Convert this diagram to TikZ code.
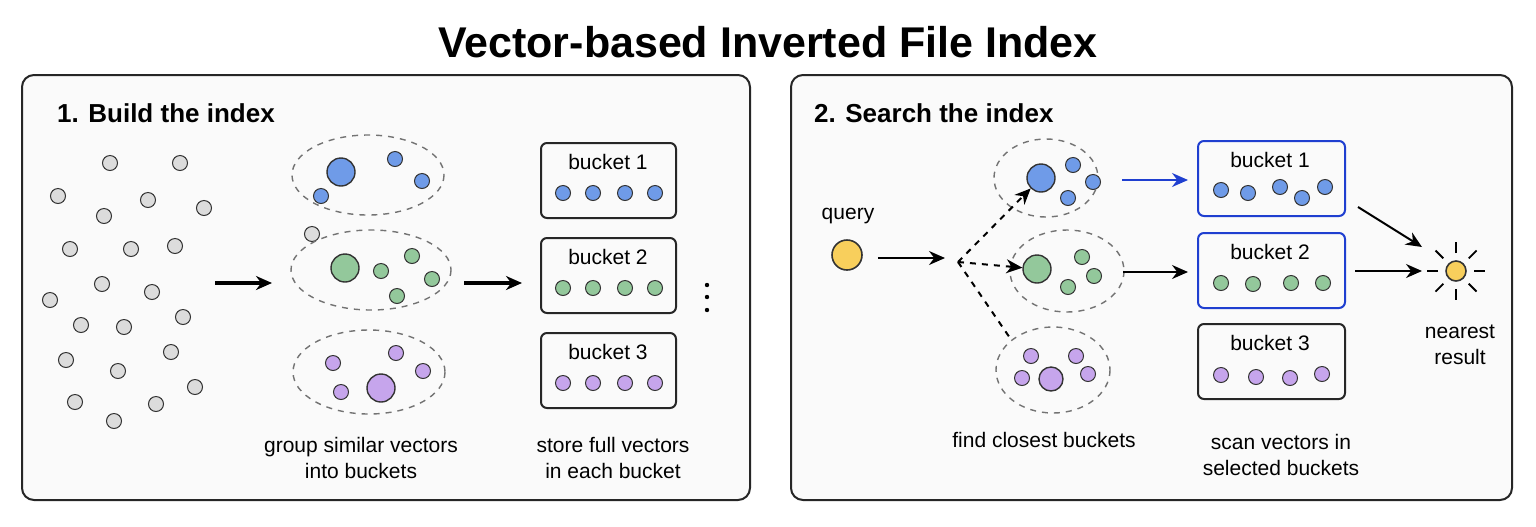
\documentclass[tikz,border=0pt]{standalone}
\usepackage{fontspec}
\setmainfont{Liberation Sans}
\usetikzlibrary{arrows.meta}
\definecolor{dotgray}{HTML}{DCDCDC}
\definecolor{dotblue}{HTML}{6F9BE8}
\definecolor{dotgreen}{HTML}{93C89B}
\definecolor{dotpurple}{HTML}{C6A5EC}
\definecolor{dotyellow}{HTML}{F8CF5C}
\definecolor{linkblue}{HTML}{1F3FD0}
\begin{document}
\begin{tikzpicture}[x=0.5pt,y=-0.5pt,font=\fontsize{10.5}{13}\selectfont]
    \tikzset{panel/.style={draw=black!85,line width=1pt,rounded corners=6pt,fill=black!2},
        dot/.style={circle,draw=black!80,line width=0.5pt,inner sep=0pt,minimum size=7.5pt},
        big/.style={dot,minimum size=14pt,line width=0.7pt},
        grp/.style={draw=black!55,dashed,line width=0.7pt},
        bucket/.style={draw=black!85,line width=1pt,rounded corners=3pt},
        arr/.style={-{Stealth[length=8pt,width=7pt]},line width=1pt},
        lbl/.style={align=center}}

    \useasboundingbox (0,0) rectangle (1536,526);
    \node[font=\fontsize{21.5}{24}\bfseries\selectfont] (title) at (768,42) {Vector-based Inverted File Index};

    % panels
    \draw[panel] (22,75) rectangle (750,500);
    \draw[panel] (791,75) rectangle (1512,500);
    \node[anchor=west,font=\fontsize{13}{15}\bfseries\selectfont] (head1) at (50,113) {1. Build the index};
    \node[anchor=west,font=\fontsize{13}{15}\bfseries\selectfont] (head2) at (807,113) {2. Search the index};

    % raw vectors
    \foreach \x/\y [count=\i] in {110/163,180/163,58/196,148/200,104/216,204/208,70/249,131/249,
        175/246,50/300,102/284,152/292,81/325,124/327,183/317,66/360,118/371,171/352,195/387,
        75/402,114/421,156/404,312/234}
        \node[dot,fill=dotgray] (v\i) at (\x,\y) {};

    % clusters
    \draw[grp] (368,175) ellipse (76 and 40);
    \draw[grp] (371,270) ellipse (80 and 40);
    \draw[grp] (369,372) ellipse (76 and 42);
    \node[big,fill=dotblue] (cb) at (341,172) {};
    \foreach \x/\y in {395/159,422/181,321/196} \node[dot,fill=dotblue] at (\x,\y) {};
    \node[big,fill=dotgreen] (cg) at (345,268) {};
    \foreach \x/\y in {381/271,412/256,432/279,397/296} \node[dot,fill=dotgreen] at (\x,\y) {};
    \node[big,fill=dotpurple] (cp) at (381,388) {};
    \foreach \x/\y in {333/363,396/353,423/371,341/392} \node[dot,fill=dotpurple] at (\x,\y) {};

    \coordinate (a1) at (215,283);
    \coordinate (a2) at (272,283);
    \coordinate (a3) at (464,283);
    \coordinate (a4) at (522,283);
    \draw[arr,line width=1.6pt] (a1) -- (a2);
    \draw[arr,line width=1.6pt] (a3) -- (a4);

    % buckets (build)
    \foreach \t/\c [count=\k] in {143/dotblue,238/dotgreen,333/dotpurple} {
        \draw[bucket] (541,\t) rectangle (676,\t+75);
        \node (bl\k) at (608,\t+19) {bucket \k};
        \foreach \x in {563,593,625,655} \node[dot,fill=\c] at (\x,\t+50) {};
    }
    \foreach \y in {285,297,310} \fill (707,\y) circle (2.2);

    \node[lbl] (cap1) at (361,458) {group similar vectors\\into buckets};
    \node[lbl] (cap2) at (613,458) {store full vectors\\in each bucket};

    % search
    \node (qlbl) at (848,216) {query};
    \node[dot,fill=dotyellow,minimum size=15pt,line width=0.8pt] (q) at (847,255) {};
    \coordinate (split) at (958,262);
    \draw[arr] (q.east)++(15,3) coordinate (qs) (qs) -- (945,258);

    \draw[grp] (1046,178) ellipse (52 and 39);
    \draw[grp] (1067,271) ellipse (57 and 41);
    \draw[grp] (1053,370) ellipse (57 and 43);
    \node[big,fill=dotblue] (sb) at (1041,178) {};
    \foreach \x/\y in {1073/165,1093/182,1068/198} \node[dot,fill=dotblue] at (\x,\y) {};
    \node[big,fill=dotgreen] (sg) at (1037,269) {};
    \foreach \x/\y in {1082/257,1094/276,1068/287} \node[dot,fill=dotgreen] at (\x,\y) {};
    \node[big,fill=dotpurple,minimum size=12pt] (sp) at (1051,379) {};
    \foreach \x/\y in {1031/356,1076/356,1022/378,1088/374} \node[dot,fill=dotpurple] at (\x,\y) {};
    \coordinate (cTop) at (1010,338);

    \draw[arr,dashed] (split) -- (sb);
    \draw[arr,dashed] (split) -- (sg);
    \draw[dashed,line width=1pt] (split) -- (cTop);

    \foreach \t/\c/\e [count=\k] in {141/dotblue/linkblue,233/dotgreen/linkblue,324/dotpurple/black!85} {
        \draw[bucket,draw=\e] (1198,\t) rectangle (1345,\t+75);
        \node (sl\k) at (1270,\t+19) {bucket \k};
    }
    \foreach \x/\y in {1221/190,1248/193,1280/187,1302/198,1325/187} \node[dot,fill=dotblue] at (\x,\y) {};
    \foreach \x/\y in {1221/283,1253/284,1291/283,1323/283} \node[dot,fill=dotgreen] at (\x,\y) {};
    \foreach \x/\y in {1221/375,1256/377,1290/378,1322/374} \node[dot,fill=dotpurple] at (\x,\y) {};

    \coordinate (b1s) at (1122,180);
    \coordinate (b1e) at (1188,180);
    \coordinate (b2s) at (1123,272);
    \coordinate (b2e) at (1188,272);
    \draw[arr,draw=linkblue,-{Stealth[length=8pt,width=7pt,fill=linkblue]}] (b1s) -- (b1e);
    \draw[arr] (b2s) -- (b2e);

    \node[dot,fill=dotyellow,minimum size=10pt,line width=0.8pt] (res) at (1456,271) {};
    \foreach \a in {0,45,...,315} \draw[line width=0.9pt] (res) ++(\a:18) -- ++(\a:11);
    \coordinate (r1s) at (1358,207);
    \coordinate (r1e) at (1422,247);
    \coordinate (r2s) at (1355,271);
    \coordinate (r2e) at (1422,271);
    \draw[arr] (r1s) -- (r1e);
    \draw[arr] (r2s) -- (r2e);
    \node[lbl] (rlbl) at (1460,345) {nearest\\result};

    \node[lbl] (cap3) at (1044,440) {find closest buckets};
    \node[lbl] (cap4) at (1281,455) {scan vectors in\\selected buckets};
\end{tikzpicture}
\end{document}
